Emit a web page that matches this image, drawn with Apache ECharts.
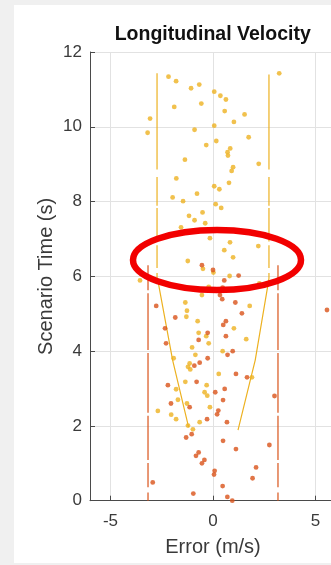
<!DOCTYPE html>
<html>
<head>
<meta charset="utf-8">
<script src="https://cdn.jsdelivr.net/npm/echarts@6/dist/echarts.min.js"></script>
<style>
  html, body { margin: 0; padding: 0; background: #f0f0f0; }
  #chart { width: 331px; height: 565px; }
</style>
</head>
<body>
<div id="chart"></div>
<script>
// Axis ticks
const xTicks = [-5, 0, 5];
const yTicks = [0, 2, 4, 6, 8, 10, 12];

// Longitudinal velocity error samples: [error (m/s), scenario time (s)]
const yellowErrors = [
  [3.23, 11.43], [-2.17, 11.34], [-1.80, 11.22], [-0.67, 11.13], [-1.07, 11.03], [0.06, 10.94],
  [0.36, 10.83], [0.63, 10.73], [-0.57, 10.62], [-1.89, 10.53], [0.57, 10.42], [1.54, 10.33],
  [-3.07, 10.22], [1.02, 10.13], [0.06, 10.03], [-0.90, 9.92], [-3.19, 9.84], [1.74, 9.72],
  [0.16, 9.62], [-0.33, 9.51], [0.84, 9.42], [0.71, 9.32], [0.73, 9.23], [-1.37, 9.12],
  [2.23, 9.01], [0.98, 8.92], [0.91, 8.82], [-1.79, 8.62], [0.78, 8.50], [0.06, 8.41],
  [0.31, 8.33], [-0.78, 8.21], [-1.97, 8.11], [-1.46, 8.01], [0.13, 7.93], [0.40, 7.83],
  [-0.51, 7.71], [-1.17, 7.62], [-0.90, 7.50], [-0.38, 7.42], [-1.56, 7.31], [-0.15, 7.02],
  [0.83, 6.91], [2.21, 6.81], [0.55, 6.70], [0.98, 6.51], [-1.23, 6.41], [-0.49, 6.20],
  [0.02, 6.10], [0.81, 6.01], [-3.56, 5.89], [2.26, 5.81], [-0.21, 5.72], [-0.54, 5.50],
  [-1.35, 5.30], [1.79, 5.21], [-1.27, 5.08], [-1.30, 4.92], [-0.75, 4.80], [1.02, 4.61],
  [-0.70, 4.49], [-0.33, 4.40], [1.62, 4.32], [-0.21, 4.21], [-1.02, 4.10], [0.47, 4.00],
  [-0.86, 3.90], [-1.92, 3.81], [-1.14, 3.67], [-1.22, 3.58], [-1.11, 3.51], [0.28, 3.39],
  [1.90, 3.30], [-1.35, 3.18], [-0.31, 3.09], [-1.80, 2.98], [-0.41, 2.90], [-0.28, 2.81],
  [-1.71, 2.70], [-1.27, 2.60], [-0.15, 2.50], [-2.69, 2.40], [-2.04, 2.30], [-1.80, 2.18],
  [-0.65, 2.10], [-1.22, 2.01], [-0.98, 1.91]
];
const redErrors = [
  [-0.54, 6.30], [0.00, 6.17], [1.25, 6.02], [0.55, 5.89], [0.47, 5.70], [0.34, 5.50],
  [0.45, 5.39], [1.09, 5.30], [-2.77, 5.21], [5.56, 5.10], [1.41, 5.01], [-1.84, 4.90],
  [0.63, 4.80], [0.50, 4.70], [-2.34, 4.61], [-0.26, 4.49], [0.63, 4.40], [-0.70, 4.30],
  [-2.29, 4.21], [0.96, 4.00], [0.71, 3.90], [-0.26, 3.81], [-0.65, 3.69], [-0.91, 3.61],
  [1.12, 3.39], [1.66, 3.30], [-0.80, 3.18], [-2.20, 3.09], [0.57, 2.99], [0.11, 2.90],
  [3.00, 2.80], [0.49, 2.69], [-2.05, 2.60], [-1.14, 2.50], [0.26, 2.41], [0.20, 2.31],
  [-0.29, 2.18], [0.68, 2.10], [-1.04, 1.78], [-1.31, 1.69], [0.49, 1.60], [2.75, 1.49],
  [1.12, 1.38], [-0.70, 1.29], [-0.83, 1.20], [-0.42, 1.09], [-0.54, 1.00], [2.10, 0.89],
  [0.08, 0.80], [0.05, 0.70], [1.93, 0.60], [-2.94, 0.49], [0.47, 0.39], [-0.96, 0.19],
  [0.70, 0.10], [0.94, 0.00]
];

// Tolerance bounds; '-' breaks the line
const yellowBoundLeft = [
  [-2.73, 11.43], [-2.73, 8.86], [-2.73, '-'], [-2.73, 8.66], [-2.73, 7.89], [-2.73, '-'],
  [-2.73, 7.83], [-2.73, 6.93], [-2.73, '-'], [-2.73, 6.83], [-2.73, 6.22], [-2.73, '-'],
  [-2.73, 6.09], [-2.73, 5.95], [-2.65, 5.77], [-1.97, 3.76], [-1.19, 1.97]
];
const yellowBoundRight = [
  [2.73, 11.40], [2.73, 8.86], [2.73, '-'], [2.73, 8.66], [2.73, 7.89], [2.73, '-'],
  [2.73, 7.83], [2.73, 6.93], [2.73, '-'], [2.73, 6.83], [2.73, 6.22], [2.73, '-'],
  [2.73, 6.09], [2.73, 5.95], [2.68, 5.77], [2.06, 3.76], [1.22, 1.89]
];
const redBoundLeft = [
  [-3.17, 6.30], [-3.17, 5.63], [-3.17, '-'], [-3.17, 5.55], [-3.17, 4.03], [-3.17, '-'],
  [-3.17, 3.95], [-3.17, 2.35], [-3.17, '-'], [-3.17, 2.27], [-3.17, 1.09], [-3.17, '-'],
  [-3.17, 1.01], [-3.17, 0.36], [-3.17, '-'], [-3.17, 0.22], [-3.17, 0.00]
];
const redBoundRight = [
  [3.17, 6.30], [3.17, 5.63], [3.17, '-'], [3.17, 5.55], [3.17, 4.03], [3.17, '-'],
  [3.17, 3.95], [3.17, 2.35], [3.17, '-'], [3.17, 2.27], [3.17, 1.09], [3.17, '-'],
  [3.17, 1.01], [3.17, 0.36], [3.17, '-'], [3.17, 0.22], [3.17, 0.00]
];

const YELLOW = '#EDB120';
const RED = '#D95319';
const FONT = 'Liberation Sans, Arial, Helvetica, sans-serif';

const chart = echarts.init(document.getElementById('chart'), null, { renderer: 'canvas' });

function boundSeries(data, color) {
  return {
    type: 'line', data: data, showSymbol: false, symbol: 'none', connectNulls: false,
    lineStyle: { color: color, width: 1.2 }, silent: true, z: 2, animation: false
  };
}
function pointSeries(data, color) {
  return {
    type: 'scatter', data: data, symbol: 'circle', symbolSize: 4.8, clip: false,
    itemStyle: { color: color }, silent: true, z: 3, animation: false
  };
}

chart.setOption({
  animation: false,
  backgroundColor: '#f0f0f0',
  grid: { left: 90, top: 52, width: 246, height: 448.7, containLabel: false, outerBoundsMode: 'none' },
  xAxis: {
    type: 'value', min: -6, max: 6,
    name: 'Error (m/s)', nameLocation: 'middle', nameGap: 37, nameMoveOverlap: false,
    nameTextStyle: { fontFamily: FONT, fontSize: 20, color: '#3a3a3a' },
    axisLine: { show: true, onZero: false, lineStyle: { color: '#4a4a4a', width: 1 } },
    axisTick: { show: true, inside: true, length: 5, customValues: xTicks, lineStyle: { color: '#4a4a4a' } },
    axisLabel: { customValues: xTicks, margin: 12, fontFamily: FONT, fontSize: 17, color: '#3a3a3a' },
    splitLine: { show: true, lineStyle: { color: '#e2e2e2', width: 1 } }
  },
  yAxis: {
    type: 'value', min: 0, max: 12, interval: 2,
    name: 'Scenario Time (s)', nameLocation: 'middle', nameGap: 34, nameRotate: 90, nameMoveOverlap: false,
    nameTextStyle: { fontFamily: FONT, fontSize: 20, color: '#3a3a3a' },
    axisLine: { show: true, onZero: false, lineStyle: { color: '#4a4a4a', width: 1 } },
    axisTick: { show: true, inside: true, length: 5, customValues: yTicks, lineStyle: { color: '#4a4a4a' } },
    axisLabel: { customValues: yTicks, margin: 8, fontFamily: FONT, fontSize: 17, color: '#3a3a3a' },
    splitLine: { show: true, lineStyle: { color: '#e2e2e2', width: 1 } }
  },
  graphic: [
    { type: 'rect', z: -10, silent: true, shape: { x: 14, y: 5, width: 330, height: 558 }, style: { fill: '#ffffff' } },
    { type: 'text', z: 10, silent: true, x: 212.7, y: 35,
      style: { text: 'Longitudinal Velocity', font: 'bold 19.5px ' + FONT, fill: '#111111', align: 'center', verticalAlign: 'middle', textAlign: 'center', textVerticalAlign: 'middle' } },
    { type: 'ellipse', z: 100, silent: true, shape: { cx: 217, cy: 260, rx: 84, ry: 30 },
      style: { fill: 'none', stroke: '#f20000', lineWidth: 6.5 } }
  ],
  series: [
    boundSeries(yellowBoundLeft, YELLOW),
    boundSeries(yellowBoundRight, YELLOW),
    boundSeries(redBoundLeft, RED),
    boundSeries(redBoundRight, RED),
    pointSeries(yellowErrors, YELLOW),
    pointSeries(redErrors, RED)
  ]
});
</script>
</body>
</html>
